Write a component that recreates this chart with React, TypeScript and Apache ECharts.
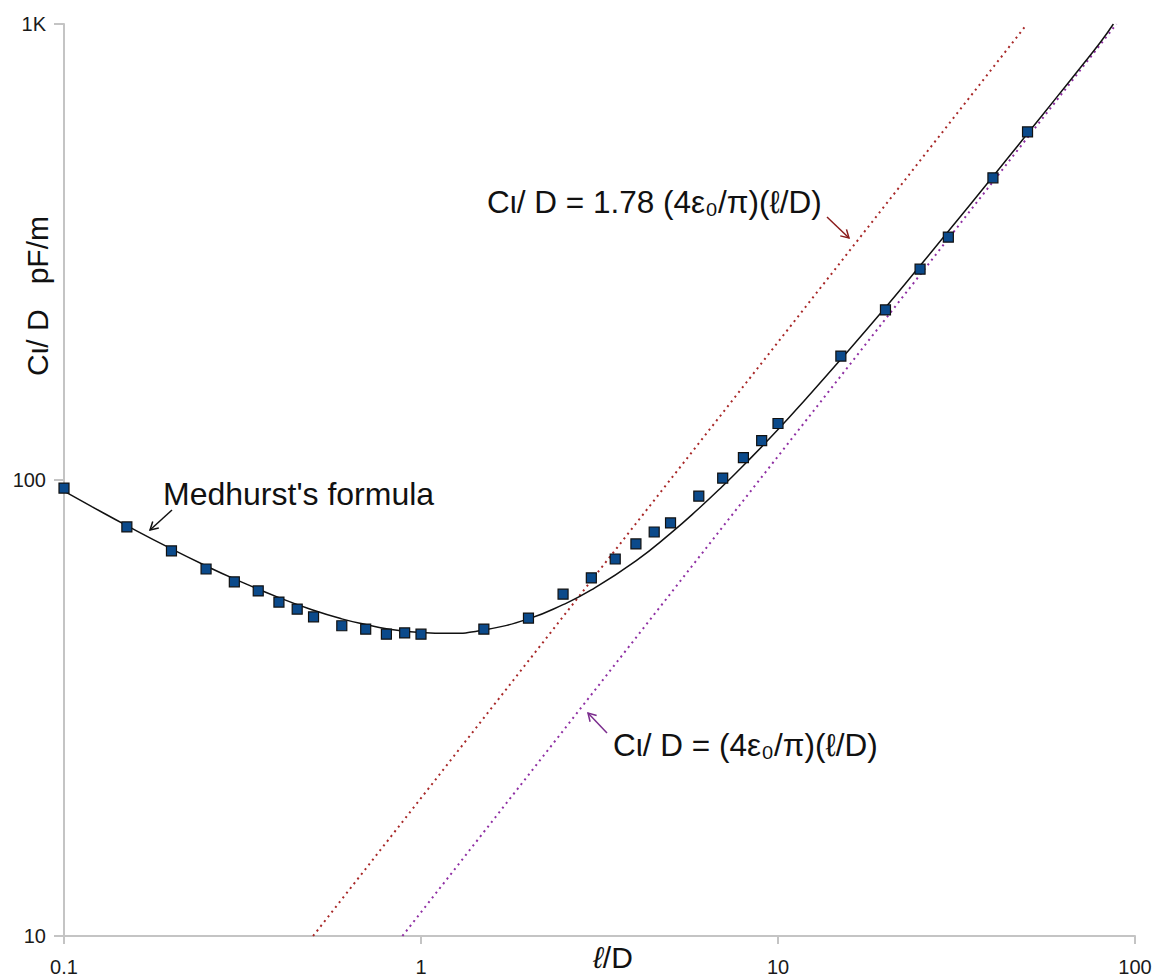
import React, { useEffect, useRef } from 'react';
import * as echarts from 'echarts';

// Measured self-capacitance points (l/D, C/D in pF/m)
const measuredX = [0.1, 0.15, 0.2, 0.25, 0.3, 0.35, 0.4, 0.45, 0.5, 0.6, 0.7, 0.8, 0.9, 1.0, 1.5, 2, 2.5, 3, 3.5, 4, 4.5, 5, 6, 7, 8, 9, 10, 15, 20, 25, 30, 40, 50];
const measuredY = [96, 78.9, 69.9, 63.8, 59.8, 57.1, 54.0, 52.1, 50.1, 47.9, 47.1, 45.9, 46.2, 45.9, 47.1, 49.8, 56.2, 61.0, 67.1, 72.4, 76.9, 80.5, 92.2, 101, 112, 122, 133, 187, 236, 290, 341, 460, 580];

// Medhurst's formula curve
const medhurstX = [0.1, 0.12, 0.15, 0.2, 0.25, 0.3, 0.4, 0.5, 0.6, 0.7, 0.8, 1, 1.2, 1.5, 2, 2.5, 3, 4, 5, 6, 7, 8, 10, 12, 15, 20, 25, 30, 40, 50, 60, 70, 80, 87];
const medhurstY = [94.5, 87.3, 79.4, 70.6, 64.8, 60.7, 55.2, 51.8, 49.6, 48.2, 47.2, 46.3, 46.1, 46.9, 49.6, 53.3, 57.4, 66.5, 76.4, 86.6, 97, 107.6, 129, 151, 184, 239, 295, 351, 463, 575, 687, 799, 912, 1000];

// Asymptote C/D = 1.78 (4e0/pi)(l/D)
const upperX = [0.4985, 49];
const upperY = [10, 983];
// Asymptote C/D = (4e0/pi)(l/D)
const lowerX = [0.887, 88.7];
const lowerY = [10, 1000];

const xTickLabels = ['0.1', '1', '10', '100'];
const yTickLabels = ['10', '100', '1K'];

const FONT = '"Liberation Sans", Arial, "DejaVu Sans", sans-serif';
const AXIS_COLOR = '#c4c4c4';

const zip = (xs: number[], ys: number[]) => xs.map((x, i) => [x, ys[i]]);

function arrow(x1: number, y1: number, x2: number, y2: number, color: string) {
  const ang = Math.atan2(y2 - y1, x2 - x1);
  const len = 9;
  const spread = Math.PI / 6;
  const p1 = [x2 - len * Math.cos(ang - spread), y2 - len * Math.sin(ang - spread)];
  const p2 = [x2 - len * Math.cos(ang + spread), y2 - len * Math.sin(ang + spread)];
  return [
    { type: 'line', shape: { x1, y1, x2, y2 }, style: { stroke: color, lineWidth: 1.5 }, z: 10 },
    { type: 'polyline', shape: { points: [p1, [x2, y2], p2] }, style: { stroke: color, lineWidth: 1.5, fill: null }, z: 10 },
  ];
}

function label(text: string, x: number, y: number, size: number, extra: any = {}) {
  return {
    type: 'text',
    x,
    y,
    z: 10,
    ...extra,
    style: {
      text,
      fontSize: size,
      fontFamily: FONT,
      fill: '#111',
      align: extra.align || 'left',
      verticalAlign: 'middle',
      textAlign: extra.align || 'left',
      textVerticalAlign: 'middle',
      ...(extra.style || {}),
    },
  };
}

export default function App() {
  const ref = useRef<HTMLDivElement>(null);
  useEffect(() => {
    if (!ref.current) return;
    const chart = echarts.init(ref.current, undefined, { renderer: 'svg' });
    const option: any = {
      animation: false,
      backgroundColor: '#ffffff',
      grid: { left: 64, right: 20, top: 24, bottom: 42, containLabel: false, outerBoundsMode: 'none' },
      xAxis: {
        type: 'log',
        logBase: 10,
        min: 0.1,
        max: 100,
        axisLine: { show: true, onZero: false, lineStyle: { color: AXIS_COLOR, width: 2 } },
        axisTick: { show: true, length: 8, lineStyle: { color: AXIS_COLOR, width: 2 } },
        minorTick: { show: false },
        splitLine: { show: false },
        axisLabel: {
          margin: 21,
          fontSize: 20,
          color: '#1a1a1a',
          fontFamily: FONT,
          formatter: (v: number) => xTickLabels[Math.round(Math.log10(v)) + 1] ?? String(v),
        },
      },
      yAxis: {
        type: 'log',
        logBase: 10,
        min: 10,
        max: 1000,
        axisLine: { show: true, onZero: false, lineStyle: { color: AXIS_COLOR, width: 2 } },
        axisTick: { show: true, length: 10, lineStyle: { color: AXIS_COLOR, width: 2 } },
        minorTick: { show: false },
        splitLine: { show: false },
        axisLabel: {
          margin: 18,
          fontSize: 20,
          color: '#1a1a1a',
          fontFamily: FONT,
          formatter: (v: number) => yTickLabels[Math.round(Math.log10(v)) - 1] ?? String(v),
        },
      },
      series: [
        {
          name: 'upper',
          type: 'line',
          data: zip(upperX, upperY),
          showSymbol: false,
          lineStyle: { color: '#a82828', width: 2, type: [2, 4] },
          z: 2,
        },
        {
          name: 'lower',
          type: 'line',
          data: zip(lowerX, lowerY),
          showSymbol: false,
          lineStyle: { color: '#8f2fa3', width: 2, type: [2, 4] },
          z: 2,
        },
        {
          name: 'Medhurst',
          type: 'line',
          data: zip(medhurstX, medhurstY),
          showSymbol: false,
          smooth: true,
          lineStyle: { color: '#111', width: 1.5 },
          z: 3,
        },
        {
          name: 'measured',
          type: 'scatter',
          data: zip(measuredX, measuredY),
          symbol: 'rect',
          symbolSize: 10,
          itemStyle: { color: '#0b4a8b', borderColor: '#111', borderWidth: 1.2, opacity: 1 },
          z: 4,
        },
      ],
      graphic: [
        label("Medhurst's formula", 163, 494, 32),
        label('Cι/ D = 1.78 (4ε₀/π)(ℓ/D)', 487, 202, 31.5),
        label('Cι/ D = (4ε₀/π)(ℓ/D)', 613, 745, 31.5),
        label('Cι/ D   pF/m', 37, 296, 30, { align: 'center', rotation: Math.PI / 2 }),
        {
          type: 'text',
          x: 613,
          y: 957,
          z: 10,
          style: {
            text: '{i|ℓ}/D',
            fontSize: 30,
            fontFamily: FONT,
            fill: '#111',
            align: 'center',
            verticalAlign: 'middle',
            textAlign: 'center',
            textVerticalAlign: 'middle',
            rich: { i: { fontStyle: 'italic', fontSize: 30, fontFamily: FONT, fill: '#111' } },
          },
        },
        ...arrow(172, 510, 150, 530, '#111'),
        ...arrow(827, 217, 849, 238, '#8b1c1c'),
        ...arrow(607, 733, 588, 713, '#7b2d8e'),
      ],
    };
    chart.setOption(option);
    return () => chart.dispose();
  }, []);
  return (
    <div
      ref={ref}
      style={{ position: 'absolute', left: 0, top: 0, width: 1155, height: 978, background: '#fff' }}
    />
  );
}
